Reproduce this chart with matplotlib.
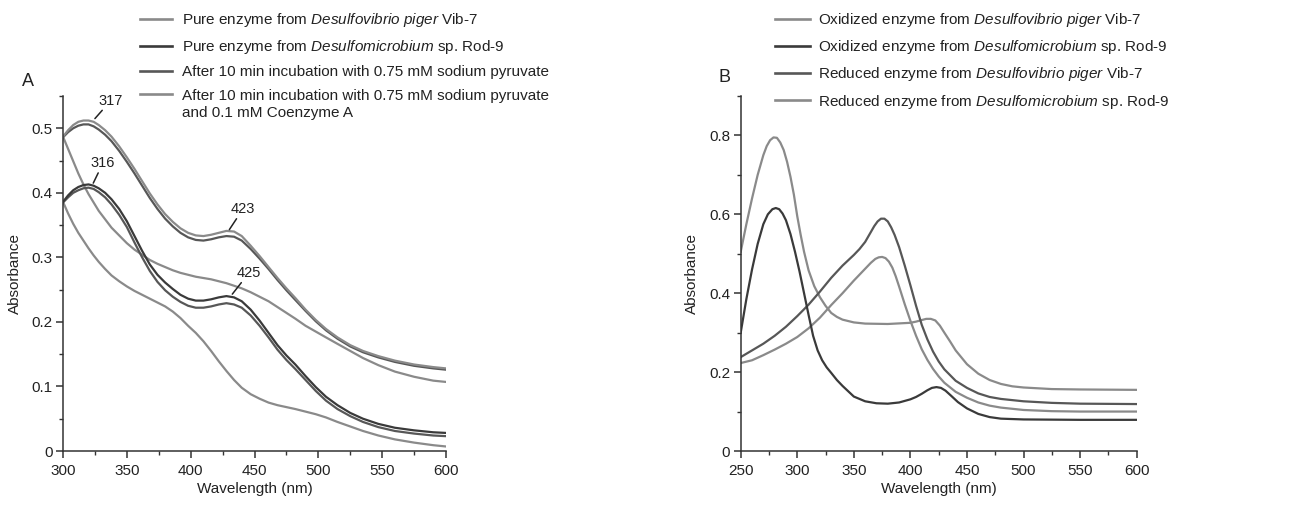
import matplotlib
matplotlib.use("Agg")
import matplotlib.pyplot as plt
from matplotlib.lines import Line2D
from matplotlib.ticker import MultipleLocator, FuncFormatter

# ---------------- data : panel A ----------------
a_wl = [300, 304, 308, 312, 316, 320, 324, 328, 333, 338, 344, 350, 356, 362, 368, 374, 380, 386,
        392, 398, 404, 410, 416, 422, 428, 434, 440, 447, 454, 461, 468, 475, 482, 490, 498, 506,
        515, 525, 535, 547, 560, 575, 590, 600]
a_vib_pure = [.487, .497, .505, .510, .512, .512, .510, .505, .497, .487, .472, .455, .437, .418,
              .399, .382, .367, .355, .345, .338, .334, .333, .335, .338, .341, .340, .333, .318,
              .302, .285, .268, .252, .237, .219, .203, .189, .176, .164, .155, .147, .140, .134,
              .130, .128]
a_vib_pyr = [.486, .494, .500, .504, .506, .506, .503, .498, .490, .480, .465, .448, .430, .411,
             .392, .375, .360, .348, .338, .331, .327, .326, .328, .331, .333, .332, .326, .313,
             .298, .282, .265, .249, .234, .217, .201, .187, .174, .162, .153, .145, .138, .132,
             .128, .126]
a_rod_pure = [.386, .396, .404, .409, .412, .413, .411, .407, .400, .390, .375, .356, .333, .310,
              .289, .273, .261, .251, .242, .236, .233, .233, .235, .238, .240, .238, .232, .219,
              .202, .183, .164, .148, .134, .116, .099, .084, .071, .059, .050, .042, .036, .032,
              .029, .028]
a_rod_pyr = [.385, .393, .400, .404, .407, .408, .406, .401, .393, .382, .366, .347, .323, .300,
             .279, .262, .249, .239, .231, .225, .222, .222, .224, .227, .229, .227, .222, .210,
             .194, .176, .157, .141, .127, .110, .093, .078, .065, .054, .045, .037, .031, .027,
             .024, .023]
a_vib_coa = [.487, .468, .449, .430, .413, .398, .385, .372, .359, .346, .334, .322, .312, .304,
             .296, .290, .285, .280, .276, .273, .270, .268, .266, .263, .260, .256, .252, .246,
             .239, .232, .223, .214, .205, .194, .185, .176, .166, .155, .144, .133, .123, .115,
             .109, .107]
a_rod_coa = [.386, .368, .352, .338, .326, .314, .303, .293, .282, .272, .263, .255, .248, .242,
             .236, .230, .224, .216, .206, .194, .183, .170, .155, .139, .124, .110, .098, .088,
             .081, .075, .071, .068, .065, .061, .057, .052, .045, .038, .031, .024, .018, .013,
             .009, .007]

a_labels = ["Pure enzyme from $\\mathit{Desulfovibrio\\ piger}$ Vib-7",
            "Pure enzyme from $\\mathit{Desulfomicrobium}$ sp. Rod-9",
            "After 10 min incubation with 0.75 mM sodium pyruvate",
            "After 10 min incubation with 0.75 mM sodium pyruvate"]
a_label_extra = "and 0.1 mM Coenzyme A"
# (label, point on curve, label centre)
a_peaks = [("317", (325.0, 0.515), (337.5, 0.543)),
           ("316", (323.7, 0.415), (331.3, 0.446)),
           ("423", (430.3, 0.343), (441.0, 0.375)),
           ("425", (432.6, 0.243), (445.7, 0.276))]

# ---------------- data : panel B ----------------
b_ox_vib_wl = [250, 255, 260, 265, 270, 273, 276, 279, 282, 285, 288, 291, 294, 297, 300, 303, 306,
               310, 315, 320, 325, 330, 335, 340, 350, 360, 380, 400, 405, 410, 414, 418, 422, 426,
               430, 435, 440, 450, 460, 470, 480, 490, 500, 525, 550, 600]
b_ox_vib = [.505, .575, .640, .700, .750, .773, .788, .795, .794, .782, .763, .733, .695, .650, .595,
            .548, .505, .458, .418, .390, .368, .350, .340, .333, .326, .323, .322, .325, .328, .332,
            .335, .335, .331, .318, .300, .278, .255, .220, .196, .180, .170, .164, .161, .157, .156, .155]

b_ox_rod_wl = [250, 255, 260, 265, 270, 274, 278, 281, 284, 287, 290, 294, 298, 302, 306, 310, 314,
               318, 322, 326, 330, 335, 340, 350, 360, 370, 380, 390, 400, 405, 410, 415, 419, 423,
               427, 431, 436, 442, 450, 460, 470, 480, 500, 550, 600]
b_ox_rod = [.300, .385, .460, .525, .575, .600, .613, .616, .613, .602, .585, .550, .505, .455, .400,
            .345, .292, .255, .230, .212, .198, .180, .165, .138, .126, .121, .120, .123, .131, .137,
            .145, .154, .160, .162, .160, .153, .140, .124, .108, .094, .086, .082, .080, .079, .079]

b_red_vib_wl = [250, 260, 270, 280, 290, 300, 310, 320, 330, 340, 350, 355, 360, 364, 368, 371, 374,
                377, 380, 383, 386, 390, 395, 400, 405, 410, 415, 420, 425, 430, 440, 450, 460, 470,
                480, 500, 525, 550, 600]
b_red_vib = [.238, .255, .272, .292, .315, .342, .371, .404, .439, .470, .497, .512, .530, .550, .570,
             .582, .589, .589, .582, .567, .548, .517, .470, .420, .368, .320, .283, .252, .227, .207,
             .178, .160, .146, .137, .132, .126, .122, .120, .119]

b_red_rod_wl = [250, 260, 270, 280, 290, 300, 310, 320, 330, 340, 350, 360, 365, 369, 372, 375, 378,
                381, 384, 387, 390, 395, 400, 405, 410, 415, 420, 425, 430, 440, 450, 460, 470, 480,
                500, 525, 550, 600]
b_red_rod = [.223, .230, .243, .257, .272, .289, .311, .338, .370, .400, .432, .462, .477, .487, .491,
             .492, .489, .480, .465, .443, .417, .372, .330, .292, .258, .231, .208, .189, .173, .150,
             .135, .123, .115, .110, .104, .101, .100, .100]

b_labels = ["Oxidized enzyme from $\\mathit{Desulfovibrio\\ piger}$ Vib-7",
            "Oxidized enzyme from $\\mathit{Desulfomicrobium}$ sp. Rod-9",
            "Reduced enzyme from $\\mathit{Desulfovibrio\\ piger}$ Vib-7",
            "Reduced enzyme from $\\mathit{Desulfomicrobium}$ sp. Rod-9"]

# ---------------- style ----------------
FAM = "Liberation Sans"
plt.rcParams["font.family"] = [FAM, "DejaVu Sans"]
plt.rcParams["mathtext.fontset"] = "custom"
plt.rcParams["mathtext.rm"] = FAM
plt.rcParams["mathtext.it"] = FAM + ":italic"

LIGHT = "#8a8a8a"
DARK = "#3a3a3a"
MED = "#575757"
TXT = "#222222"
LW = 1.6
FS = 11

fig = plt.figure(figsize=(12.9, 5.11), dpi=100)
axA = fig.add_axes([63 / 1290, 60 / 511, 383 / 1290, 355 / 511])
axB = fig.add_axes([740.7 / 1290, 60 / 511, 396 / 1290, 355 / 511])

def fmt(v, p):
    return "0" if abs(v) < 1e-9 else f"{v:.1f}"

for ax in (axA, axB):
    for s in ("top", "right"):
        ax.spines[s].set_visible(False)
    for s in ("left", "bottom"):
        ax.spines[s].set_linewidth(1.1)
        ax.spines[s].set_color("#333333")
    ax.tick_params(which="major", direction="out", length=5, width=1.1, color="#333333",
                   labelsize=FS, labelcolor=TXT)
    ax.tick_params(which="minor", direction="out", length=3, width=1.0, color="#333333")
    ax.tick_params(axis="x", which="major", pad=4.5)
    ax.tick_params(axis="y", which="major", pad=2.5)
    ax.xaxis.set_major_locator(MultipleLocator(50))
    ax.xaxis.set_minor_locator(MultipleLocator(25))
    ax.yaxis.set_major_formatter(FuncFormatter(fmt))
    ax.set_xlabel("Wavelength (nm)", fontsize=FS, color=TXT, labelpad=3)
    ax.set_ylabel("Absorbance", fontsize=FS, color=TXT, labelpad=7)

# panel A
axA.plot(a_wl, a_vib_coa, color=LIGHT, lw=LW)
axA.plot(a_wl, a_rod_coa, color=LIGHT, lw=LW)
axA.plot(a_wl, a_vib_pyr, color=MED, lw=LW)
axA.plot(a_wl, a_rod_pyr, color=MED, lw=LW)
axA.plot(a_wl, a_vib_pure, color=LIGHT, lw=LW)
axA.plot(a_wl, a_rod_pure, color=DARK, lw=LW)
axA.set_xlim(300, 600)
axA.set_ylim(0, 0.55)
axA.yaxis.set_major_locator(MultipleLocator(0.1))
axA.yaxis.set_minor_locator(MultipleLocator(0.05))
for txt, pt, tp in a_peaks:
    axA.annotate(txt, xy=pt, xytext=tp, fontsize=10.5, color=TXT, ha="center", va="center",
                 arrowprops=dict(arrowstyle="-", color="#222222", lw=1.1, shrinkA=0, shrinkB=0))

# panel B
axB.plot(b_ox_vib_wl, b_ox_vib, color=LIGHT, lw=LW)
axB.plot(b_red_rod_wl, b_red_rod, color=LIGHT, lw=LW)
axB.plot(b_red_vib_wl, b_red_vib, color=MED, lw=LW)
axB.plot(b_ox_rod_wl, b_ox_rod, color=DARK, lw=LW)
axB.set_xlim(250, 600)
axB.set_ylim(0, 0.9)
axB.yaxis.set_major_locator(MultipleLocator(0.2))
axB.yaxis.set_minor_locator(MultipleLocator(0.1))

# legends
a_handles = [Line2D([], [], color=c, lw=LW + 0.3) for c in (LIGHT, DARK, MED, LIGHT)]
legA = fig.legend(a_handles, a_labels, loc="upper left", bbox_to_anchor=(140 / 1290, 1 - 11 / 511),
                  frameon=False, fontsize=FS, handlelength=2.1, handletextpad=0.62,
                  labelspacing=0.6, borderpad=0, borderaxespad=0)
b_handles = [Line2D([], [], color=c, lw=LW + 0.3) for c in (LIGHT, DARK, MED, LIGHT)]
legB = fig.legend(b_handles, b_labels, loc="upper left", bbox_to_anchor=(775 / 1290, 1 - 11 / 511),
                  frameon=False, fontsize=FS, handlelength=2.3, handletextpad=0.52,
                  labelspacing=0.6, borderpad=0, borderaxespad=0)
for t in legA.get_texts() + legB.get_texts():
    t.set_color(TXT)

fig.canvas.draw()
bb = legA.get_texts()[3].get_window_extent()
fig.text(bb.x0 / fig.bbox.width, (bb.y0 - 17.5) / fig.bbox.height, a_label_extra,
         fontsize=FS, color=TXT, ha="left", va="bottom")

fig.text(28 / 1290, 1 - 81 / 511, "A", fontsize=13, color=TXT, ha="center", va="center")
fig.text(724 / 1290, 1 - 78 / 511, "B", fontsize=13, color=TXT, ha="center", va="center")

fig.savefig("out.png", dpi=100)
